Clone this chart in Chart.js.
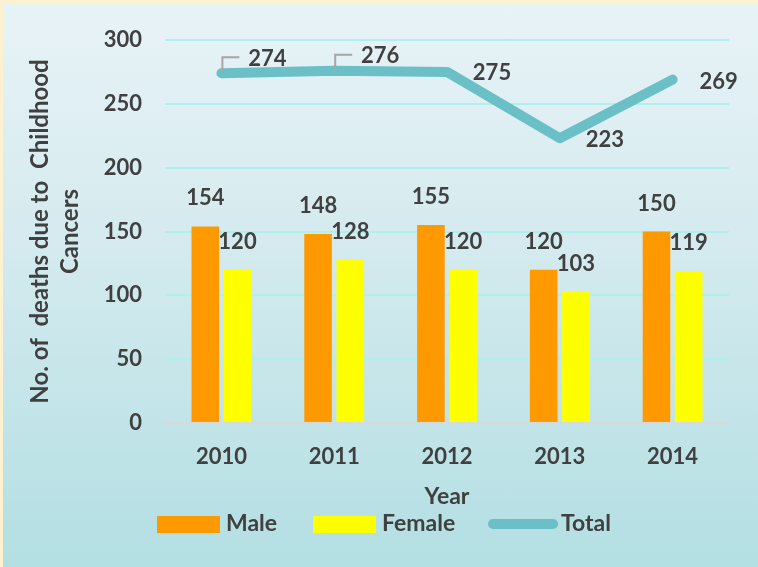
<!DOCTYPE html>
<html>
<head>
<meta charset="utf-8">
<script src="https://cdn.jsdelivr.net/npm/chart.js@4.4.1/dist/chart.umd.min.js"></script>
<style>
  html, body { margin: 0; padding: 0; }
  #wrap {
    width: 758px; height: 567px; position: relative;
    background: linear-gradient(to bottom, #e8f3f7 0%, #d6ebef 40%, #b3dfe3 100%);
    box-shadow: inset 3px 3px 0 0 #fdf1cf;
  }
  canvas { display: block; }
</style>
</head>
<body>
<div id="wrap"><canvas id="chart" width="758" height="567"></canvas></div>
<script>
// chart data
const years = ['2010', '2011', '2012', '2013', '2014'];
const male = [154, 148, 155, 120, 150];
const female = [120, 128, 120, 103, 119];
const total = [274, 276, 275, 223, 269];
const yTicks = [0, 50, 100, 150, 200, 250, 300];

const textColor = '#404040';
const fontFamily = 'Lato, "Open Sans", sans-serif';

// value labels drawn next to bars and the line
const labelPlugin = {
    id: 'valueLabels',
    afterDatasetsDraw(chart) {
        const ctx = chart.ctx;
        ctx.save();
        ctx.font = 'bold 22px ' + fontFamily;
        ctx.fillStyle = textColor;
        ctx.textAlign = 'center';
        ctx.textBaseline = 'middle';
        chart.data.datasets.forEach((ds, i) => {
            const meta = chart.getDatasetMeta(i);
            if (ds.type === 'line') {
                const offsets = [[46, -14], [46, -15], [45, 1], [45, 2], [46, 2]];
                meta.data.forEach((pt, j) => {
                    const [dx, dy] = offsets[j];
                    ctx.fillText(ds.data[j], pt.x + dx, pt.y + dy);
                    if (j < 2) {
                        // leader line
                        ctx.strokeStyle = '#a6a6a6';
                        ctx.lineWidth = 2;
                        ctx.beginPath();
                        ctx.moveTo(pt.x + 1, pt.y - 1);
                        ctx.lineTo(pt.x + 1, pt.y - 16);
                        ctx.lineTo(pt.x + 18, pt.y - 16);
                        ctx.stroke();
                    }
                });
            } else {
                meta.data.forEach((bar, j) => {
                    ctx.fillText(ds.data[j], bar.x, bar.y - 28);
                });
            }
        });
        ctx.restore();
    }
};

// legend at the bottom
const legendPlugin = {
    id: 'bottomLegend',
    afterDraw(chart) {
        const ctx = chart.ctx;
        const cy = 524;
        ctx.save();
        ctx.font = 'bold 23px ' + fontFamily;
        ctx.textBaseline = 'middle';
        ctx.textAlign = 'left';

        ctx.fillStyle = '#ff9900';
        ctx.fillRect(157, cy - 8, 63, 17);
        ctx.fillStyle = textColor;
        ctx.fillText('Male', 226, cy);

        ctx.fillStyle = '#ffff00';
        ctx.fillRect(313, cy - 8, 63, 17);
        ctx.fillStyle = textColor;
        ctx.fillText('Female', 382, cy);

        ctx.strokeStyle = '#6bbfc6';
        ctx.lineWidth = 10;
        ctx.lineCap = 'round';
        ctx.beginPath();
        ctx.moveTo(493, cy);
        ctx.lineTo(553, cy);
        ctx.stroke();
        ctx.fillStyle = textColor;
        ctx.fillText('Total', 561, cy);
        ctx.restore();
    }
};

new Chart(document.getElementById('chart'), {
    data: {
        labels: years,
        datasets: [
            {
                type: 'line',
                label: 'Total',
                data: total,
                borderColor: '#6bbfc6',
                borderWidth: 10,
                borderCapStyle: 'round',
                borderJoinStyle: 'round',
                pointRadius: 0,
                tension: 0,
                order: 0
            },
            {
                type: 'bar',
                label: 'Male',
                data: male,
                backgroundColor: '#ff9900',
                barPercentage: 0.857,
                categoryPercentage: 0.571,
                order: 1
            },
            {
                type: 'bar',
                label: 'Female',
                data: female,
                backgroundColor: '#ffff00',
                barPercentage: 0.857,
                categoryPercentage: 0.571,
                order: 1
            }
        ]
    },
    options: {
        responsive: false,
        animation: false,
        layout: { padding: { left: 20, top: 40, right: 29, bottom: 57 } },
        plugins: {
            legend: { display: false },
            tooltip: { enabled: false }
        },
        scales: {
            x: {
                grid: { display: false, drawTicks: false },
                border: { color: '#d9d9d9', width: 2 },
                ticks: {
                    color: textColor,
                    font: { family: fontFamily, size: 22, weight: 'bold' },
                    padding: 21
                },
                title: {
                    display: true,
                    text: 'Year',
                    color: textColor,
                    font: { family: fontFamily, size: 23, weight: 'bold' },
                    padding: 0
                },
                afterFit(scale) { scale.height = 87; }
            },
            y: {
                min: 0,
                max: 300,
                afterBuildTicks(scale) {
                    scale.ticks = yTicks.map(v => ({ value: v }));
                },
                grid: {
                    drawTicks: false,
                    color: ctx => ctx.tick.value === 0 ? 'rgba(0,0,0,0)' : '#aef0ec',
                    lineWidth: 2
                },
                border: { display: false },
                ticks: {
                    color: textColor,
                    font: { family: fontFamily, size: 22, weight: 'bold' },
                    padding: 23
                },
                title: {
                    display: true,
                    text: ['No. of  deaths due to  Childhood', 'Cancers'],
                    color: textColor,
                    font: { family: fontFamily, size: 24, weight: 'bold', lineHeight: 1.25 },
                    padding: { top: 5, bottom: 0 }
                },
                afterFit(scale) { scale.width = 145; }
            }
        }
    },
    plugins: [labelPlugin, legendPlugin]
});
</script>
</body>
</html>
